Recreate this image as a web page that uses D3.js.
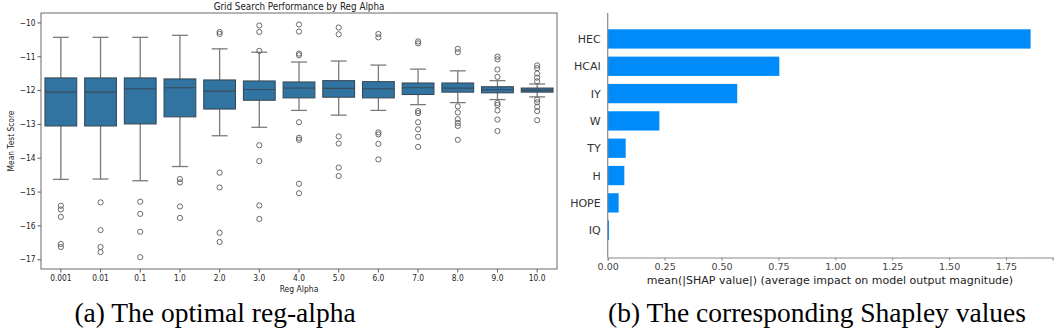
<!DOCTYPE html>
<html>
<head>
<meta charset="utf-8" />
<title>Reg alpha and SHAP</title>
<script src="https://cdnjs.cloudflare.com/ajax/libs/d3/7.8.5/d3.min.js"></script>
<style>
  body { margin: 0; background: #fff; }
  svg { display: block; }
</style>
</head>
<body>
<svg id="chart" width="1055" height="330"></svg>
<script>
  // --- box plot data ---
  let alphas = ["0.001", "0.01", "0.1", "1.0", "2.0", "3.0", "4.0", "5.0", "6.0", "7.0", "8.0", "9.0", "10.0"]
  let whiskerLow = [-14.64, -14.63, -14.68, -14.26, -13.35, -13.10, -12.60, -12.74, -12.60, -12.43, -12.37, -12.28, -12.20]
  let q1 = [-13.06, -13.06, -13.00, -12.79, -12.56, -12.30, -12.23, -12.21, -12.23, -12.13, -12.06, -12.08, -12.06]
  let medians = [-12.06, -12.06, -11.96, -11.93, -12.03, -11.98, -11.94, -11.95, -11.96, -11.93, -11.94, -11.99, -12.00]
  let q3 = [-11.64, -11.64, -11.64, -11.67, -11.70, -11.73, -11.76, -11.72, -11.75, -11.79, -11.79, -11.90, -11.94]
  let whiskerHigh = [-10.44, -10.44, -10.44, -10.38, -10.78, -10.88, -11.17, -11.14, -11.26, -11.38, -11.43, -11.72, -11.82]
  let outliers = [
    [-15.42, -15.53, -15.75, -16.55, -16.64],
    [-15.32, -16.14, -16.64, -16.79],
    [-15.30, -15.66, -16.19, -16.94],
    [-14.63, -14.73, -15.44, -15.78],
    [-10.28, -10.34, -14.44, -14.88, -16.22, -16.49],
    [-10.09, -10.28, -10.84, -13.63, -14.10, -15.41, -15.81],
    [-10.06, -10.27, -10.92, -10.97, -12.95, -13.41, -13.47, -14.77, -15.05],
    [-10.15, -10.35, -13.37, -13.58, -14.29, -14.54],
    [-10.34, -10.44, -13.25, -13.31, -13.59, -14.05],
    [-10.56, -10.62, -12.62, -12.68, -12.95, -13.16, -13.38, -13.68],
    [-10.78, -10.88, -12.48, -12.66, -12.86, -12.97, -13.06, -13.47],
    [-11.01, -11.09, -11.39, -11.61, -12.38, -12.44, -12.60, -12.87, -13.21],
    [-11.27, -11.35, -11.51, -11.63, -11.74, -12.28, -12.36, -12.49, -12.62, -12.89]
  ]
  let scoreTicks = [-17, -16, -15, -14, -13, -12, -11, -10]

  // --- SHAP data ---
  let features = ["HEC", "HCAI", "IY", "W", "TY", "H", "HOPE", "IQ"]
  let shapValues = [1.858, 0.754, 0.569, 0.227, 0.079, 0.073, 0.048, 0.006]
  let shapTicks = [0, 0.25, 0.5, 0.75, 1.0, 1.25, 1.5, 1.75]

  let svg = d3.select('#chart')
  let sx = 0.88  // left figure text is a bit squeezed sideways

  // ================= left: box plot =================
  let L = { left: 41, right: 557, top: 13, bottom: 269 }
  let xBand = d3.scaleBand().domain(alphas).range([L.left, L.right]).padding(0)
  let yScore = d3.scaleLinear().domain([-17.29, -9.72]).range([L.bottom, L.top])

  let boxes = alphas.map(function(a, i) {
    return { a: a, lo: whiskerLow[i], q1: q1[i], med: medians[i], q3: q3[i], hi: whiskerHigh[i], out: outliers[i] }
  })

  let boxW = xBand.bandwidth() * 0.8
  let capW = boxW * 0.5
  let g = svg.append('g')

  let bx = g.selectAll('g.box').data(boxes).enter().append('g')
    .attr('class', 'box')
    .attr('transform', function(d) { return 'translate(' + (xBand(d.a) + xBand.bandwidth() / 2) + ',0)' })

  // whiskers
  bx.append('line').attr('x1', 0).attr('x2', 0)
    .attr('y1', function(d) { return yScore(d.q3) }).attr('y2', function(d) { return yScore(d.hi) })
    .attr('stroke', '#7b7b7b').attr('stroke-width', 1.3)
  bx.append('line').attr('x1', 0).attr('x2', 0)
    .attr('y1', function(d) { return yScore(d.q1) }).attr('y2', function(d) { return yScore(d.lo) })
    .attr('stroke', '#7b7b7b').attr('stroke-width', 1.3)
  // caps
  bx.append('line').attr('x1', -capW / 2).attr('x2', capW / 2)
    .attr('y1', function(d) { return yScore(d.hi) }).attr('y2', function(d) { return yScore(d.hi) })
    .attr('stroke', '#7b7b7b').attr('stroke-width', 1.3)
  bx.append('line').attr('x1', -capW / 2).attr('x2', capW / 2)
    .attr('y1', function(d) { return yScore(d.lo) }).attr('y2', function(d) { return yScore(d.lo) })
    .attr('stroke', '#7b7b7b').attr('stroke-width', 1.3)
  // box
  bx.append('rect')
    .attr('x', -boxW / 2).attr('width', boxW)
    .attr('y', function(d) { return yScore(d.q3) })
    .attr('height', function(d) { return yScore(d.q1) - yScore(d.q3) })
    .attr('fill', '#3274a1').attr('stroke', '#3a4a58').attr('stroke-width', 1.1)
  // median
  bx.append('line').attr('x1', -boxW / 2).attr('x2', boxW / 2)
    .attr('y1', function(d) { return yScore(d.med) }).attr('y2', function(d) { return yScore(d.med) })
    .attr('stroke', '#3a4a58').attr('stroke-width', 1.1)
  // fliers
  bx.selectAll('circle').data(function(d) { return d.out }).enter().append('circle')
    .attr('cx', 0).attr('cy', function(v) { return yScore(v) })
    .attr('r', 2.6).attr('fill', 'none').attr('stroke', '#5a5a5a').attr('stroke-width', 0.9)

  // axes
  let yAxL = d3.axisLeft(yScore).tickValues(scoreTicks).tickSize(3.5).tickPadding(2)
  let xAxL = d3.axisBottom(xBand).tickSize(3.5).tickPadding(2)
  let gy = svg.append('g').attr('transform', 'translate(' + L.left + ',0)').call(yAxL)
  let gx = svg.append('g').attr('transform', 'translate(0,' + L.bottom + ')').call(xAxL)
  ;[gy, gx].forEach(function(ax) {
    ax.select('.domain').remove()
    ax.selectAll('.tick line').attr('stroke', '#333').attr('stroke-width', 0.8)
    ax.selectAll('.tick text').attr('fill', '#222')
      .style('font-family', 'DejaVu Sans').style('font-size', '8.5px')
  })
  gy.selectAll('.tick text').attr('transform', 'scale(' + sx + ',1)').attr('x', -5.5 / sx)
  gx.selectAll('.tick text').attr('transform', 'scale(' + sx + ',1)')

  // frame
  svg.append('rect').attr('x', L.left).attr('y', L.top)
    .attr('width', L.right - L.left).attr('height', L.bottom - L.top)
    .attr('fill', 'none').attr('stroke', '#6a6a6a').attr('stroke-width', 1)

  function squeezed(txt, x, y, size, rot) {
    return svg.append('text')
      .attr('transform', 'translate(' + x + ',' + y + ')' + (rot ? ' rotate(' + rot + ')' : '') + ' scale(' + sx + ',1)')
      .attr('text-anchor', 'middle')
      .style('font-family', 'DejaVu Sans').style('font-size', size + 'px').attr('fill', '#222')
      .text(txt)
  }
  squeezed('Grid Search Performance by Reg Alpha', (L.left + L.right) / 2, 10, 10)
  squeezed('Reg Alpha', (L.left + L.right) / 2, 292, 8.7)
  squeezed('Mean Test Score', 14, (L.top + L.bottom) / 2, 8.5, -90)

  // ================= right: SHAP bars =================
  let R = { left: 607.7, right: 1052.7, top: 13, bottom: 257.5 }
  let xShap = d3.scaleLinear().domain([0, 1.955]).range([R.left, R.right])
  let yShap = d3.scaleLinear().domain([-0.95, 8]).range([R.top, R.bottom])
  let barH = 19.3

  svg.append('g').selectAll('rect').data(shapValues).enter().append('rect')
    .attr('x', xShap(0))
    .attr('y', function(d, i) { return yShap(i) - barH / 2 })
    .attr('width', function(d) { return xShap(d) - xShap(0) })
    .attr('height', barH)
    .attr('fill', '#008bfb')

  svg.append('g').selectAll('text').data(features).enter().append('text')
    .attr('x', R.left - 7)
    .attr('y', function(d, i) { return yShap(i) })
    .attr('dy', '0.36em')
    .attr('text-anchor', 'end')
    .style('font-family', 'DejaVu Sans').style('font-size', '11px').attr('fill', '#333')
    .text(function(d) { return d })

  let xAxR = d3.axisBottom(xShap).tickValues(shapTicks).tickFormat(d3.format('.2f')).tickSize(3).tickPadding(3)
  let gxr = svg.append('g').attr('transform', 'translate(0,' + R.bottom + ')').call(xAxR)
  gxr.select('.domain').attr('stroke', '#8a8a8a').attr('stroke-width', 1.2)
  gxr.selectAll('.tick line').attr('stroke', '#8a8a8a')
  gxr.selectAll('.tick text').attr('fill', '#444')
    .style('font-family', 'DejaVu Sans').style('font-size', '9.5px')

  svg.append('line').attr('x1', R.left).attr('x2', R.left).attr('y1', R.top).attr('y2', R.bottom)
    .attr('stroke', '#8a8a8a').attr('stroke-width', 1.2)

  svg.append('text')
    .attr('x', 830).attr('y', 284)
    .attr('text-anchor', 'middle')
    .style('font-family', 'DejaVu Sans').style('font-size', '11px').attr('fill', '#222')
    .text('mean(|SHAP value|) (average impact on model output magnitude)')

  // ================= captions =================
  svg.append('text').attr('x', 215).attr('y', 322).attr('text-anchor', 'middle')
    .style('font-family', 'Liberation Serif').style('font-size', '27.5px').attr('fill', '#000')
    .text('(a) The optimal reg-alpha')
  svg.append('text').attr('x', 817).attr('y', 322).attr('text-anchor', 'middle')
    .style('font-family', 'Liberation Serif').style('font-size', '27.5px').attr('fill', '#000')
    .text('(b) The corresponding Shapley values')
</script>
</body>
</html>
